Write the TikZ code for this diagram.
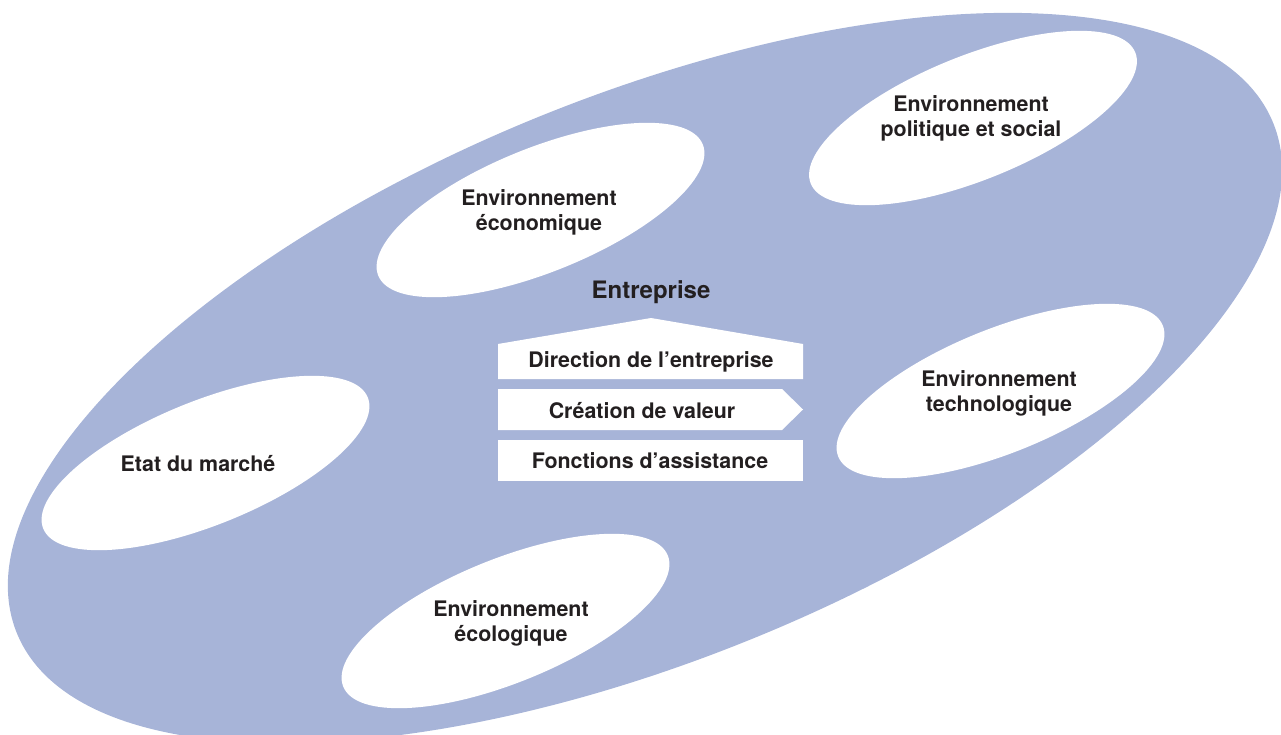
\documentclass[tikz,border=0pt]{standalone}
\usepackage{fontspec}
\setmainfont{TeX Gyre Heros}
\definecolor{bgblue}{RGB}{167,180,216}
\definecolor{txt}{RGB}{35,31,32}
\begin{document}
\begin{tikzpicture}[x=1pt,y=-1pt,
  lbl/.style={font=\bfseries\fontsize{21.4}{25}\selectfont, text=txt, align=center, inner sep=0pt},
  title/.style={font=\bfseries\fontsize{24}{28}\selectfont, text=txt, inner sep=0pt},
  envshape/.style={fill=white},
  boxshape/.style={fill=white}]
\clip (0,0) rectangle (1281,735);
\useasboundingbox (0,0) rectangle (1281,735);
% big background ellipse
\fill[bgblue, rotate around={22.1:(645,378)}] (645,378) ellipse [x radius=678pt, y radius=282pt];
% environment ellipses
\fill[envshape, rotate around={22:(973,118)}] (973,118) ellipse [x radius=175pt, y radius=62pt];
\fill[envshape, rotate around={22:(540.5,210)}] (540.5,210) ellipse [x radius=175pt, y radius=62pt];
\fill[envshape, rotate around={22:(1000.5,391)}] (1000.5,391) ellipse [x radius=175pt, y radius=62pt];
\fill[envshape, rotate around={22:(205.5,463)}] (205.5,463) ellipse [x radius=175pt, y radius=62pt];
\fill[envshape, rotate around={22:(505.5,621)}] (505.5,621) ellipse [x radius=175pt, y radius=62pt];
% enterprise blocks
\fill[boxshape] (498,379) -- (498,344) -- (651,318) -- (803,344) -- (803,379) -- cycle;
\fill[boxshape] (498,389) -- (782,389) -- (803,409.5) -- (782,430) -- (498,430) -- cycle;
\fill[boxshape] (498,440) rectangle (803,481);
% texts
\node[lbl] (polit) at (971,118) {Environnement\\politique et social};
\node[lbl] (econ) at (539,212) {Environnement\\économique};
\node[lbl] (tech) at (999,393) {Environnement\\technologique};
\node[lbl] (marche) at (198,464) {Etat du marché};
\node[lbl] (eco) at (511,623) {Environnement\\écologique};
\node[title] (entr) at (651,292) {Entreprise};
\node[lbl] (dir) at (651,362) {Direction de l’entreprise};
\node[lbl] (crea) at (642,411) {Création de valeur};
\node[lbl] (fonc) at (650,461) {Fonctions d’assistance};
\end{tikzpicture}
\end{document}
